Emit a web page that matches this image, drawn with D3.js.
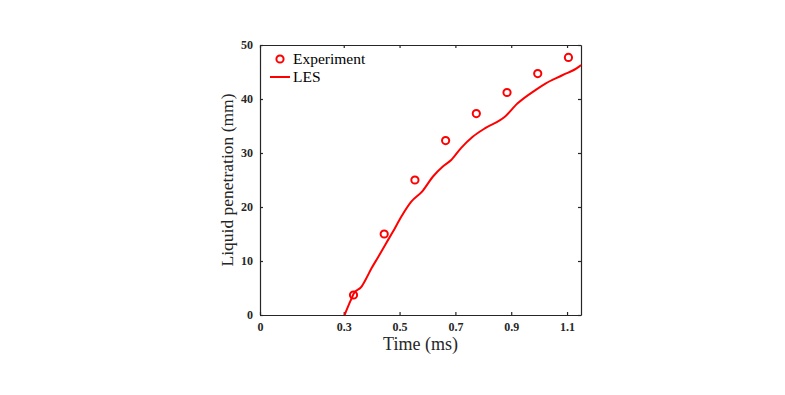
<!DOCTYPE html>
<html>
<head>
<meta charset="utf-8">
<script src="https://cdn.jsdelivr.net/npm/d3@7"></script>
<style>
  body { margin: 0; background: #fff; }
  svg text { font-family: "Liberation Serif", "DejaVu Serif", serif; }
</style>
</head>
<body>
<div id="chart"></div>
<script>
// Experiment points
const expTime = [0.335, 0.445, 0.555, 0.665, 0.775, 0.885, 0.995, 1.105];
const expPen = [3.7, 15.0, 25.0, 32.3, 37.3, 41.2, 44.7, 47.7];

// LES curve
const lesTime = [0.303, 0.324, 0.336, 0.363, 0.381, 0.399, 0.423, 0.452, 0.476, 0.506, 0.542, 0.583,
  0.619, 0.655, 0.685, 0.720, 0.762, 0.810, 0.875, 0.923, 0.988, 1.024, 1.083, 1.143, 1.15];
const lesPen = [0, 2.6, 4.0, 5.2, 6.8, 8.6, 10.7, 13.3, 15.4, 18.2, 21.0, 23.0,
  25.6, 27.5, 28.7, 30.9, 33.0, 34.7, 36.6, 39.2, 41.7, 42.9, 44.4, 46.0, 46.3];

const xTicks = [0, 0.3, 0.5, 0.7, 0.9, 1.1];
const yTicks = [0, 10, 20, 30, 40, 50];

const W = 785, H = 395;
const margin = { top: 45, right: 204, bottom: 80, left: 260 };
const width = W - margin.left - margin.right;
const height = H - margin.top - margin.bottom;

const svg = d3.select("#chart").append("svg")
    .attr("width", W)
    .attr("height", H);

const g = svg.append("g")
    .attr("transform", `translate(${margin.left}, ${margin.top})`);

const xScale = d3.scaleLinear().domain([0, 1.15]).range([0, width]);
const yScale = d3.scaleLinear().domain([0, 50]).range([height, 0]);

// axes, ticks pointing inward
const xAxis = d3.axisBottom(xScale).tickValues(xTicks).tickSize(-3).tickSizeOuter(0)
    .tickPadding(7).tickFormat(d => d === 0 ? "0" : d3.format(".1f")(d));
const yAxis = d3.axisLeft(yScale).tickValues(yTicks).tickSize(-3).tickSizeOuter(0).tickPadding(7);

g.append("g").attr("class", "axis")
    .attr("transform", `translate(0, ${height})`).call(xAxis);
g.append("g").attr("class", "axis").call(yAxis);
g.append("g").attr("class", "axis")
    .call(d3.axisTop(xScale).tickValues(xTicks).tickSize(-3).tickSizeOuter(0).tickFormat(""));
g.append("g").attr("class", "axis")
    .attr("transform", `translate(${width}, 0)`)
    .call(d3.axisRight(yScale).tickValues(yTicks).tickSize(-3).tickSizeOuter(0).tickFormat(""));

g.selectAll(".axis path, .axis line").attr("stroke", "#262626").attr("stroke-width", 1.2);
g.selectAll(".axis text")
    .attr("fill", "#262626")
    .style("font-size", "12px")
    .style("font-weight", "bold");

// LES line
const lesData = lesTime.map((t, i) => ({ t: t, p: lesPen[i] }));
const line = d3.line().x(d => xScale(d.t)).y(d => yScale(d.p)).curve(d3.curveMonotoneX);

g.append("path")
    .datum(lesData)
    .attr("fill", "none")
    .attr("stroke", "#ff0000")
    .attr("stroke-width", 2)
    .attr("d", line);

// experiment markers
g.selectAll(".exp")
    .data(expTime.map((t, i) => ({ t: t, p: expPen[i] })))
    .enter().append("circle")
    .attr("class", "exp")
    .attr("cx", d => xScale(d.t))
    .attr("cy", d => yScale(d.p))
    .attr("r", 3.6)
    .attr("fill", "none")
    .attr("stroke", "#ff0000")
    .attr("stroke-width", 2);

// axis labels
g.append("text")
    .attr("x", width / 2)
    .attr("y", height + 35)
    .attr("text-anchor", "middle")
    .attr("fill", "#262626")
    .style("font-size", "18px")
    .text("Time (ms)");

g.append("text")
    .attr("transform", `translate(-27, ${height / 2}) rotate(-90)`)
    .attr("text-anchor", "middle")
    .attr("fill", "#262626")
    .style("font-size", "17.5px")
    .text("Liquid penetration (mm)");

// legend
const legend = g.append("g").attr("transform", "translate(10, 14)");
legend.append("circle")
    .attr("cx", 10).attr("cy", 0).attr("r", 3.6)
    .attr("fill", "none").attr("stroke", "#ff0000").attr("stroke-width", 2);
legend.append("text")
    .attr("x", 23).attr("y", 5)
    .attr("fill", "#000")
    .style("font-size", "15.5px")
    .text("Experiment");
legend.append("line")
    .attr("x1", 0).attr("x2", 20).attr("y1", 18).attr("y2", 18)
    .attr("stroke", "#ff0000").attr("stroke-width", 2);
legend.append("text")
    .attr("x", 23).attr("y", 23)
    .attr("fill", "#000")
    .style("font-size", "15.5px")
    .text("LES");
</script>
</body>
</html>
